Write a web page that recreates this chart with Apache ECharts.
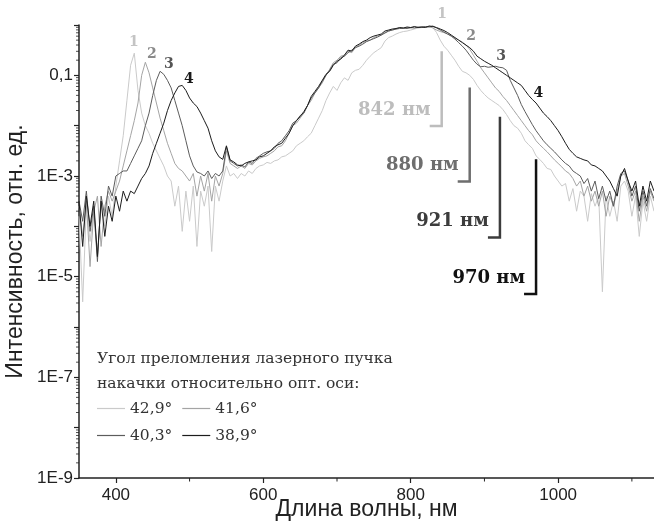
<!DOCTYPE html>
<html><head><meta charset="utf-8">
<script src="https://cdn.jsdelivr.net/npm/echarts@6/dist/echarts.min.js"></script>
<style>html,body{margin:0;padding:0;background:#fff}#c{width:654px;height:528px}</style>
</head><body><div id="c"></div><script>
// Wavelength grid, nm
const wavelength = [
350,355,360,365,370,375,380,385,390,395,
400,405,410,415,420,425,430,435,440,445,
450,455,460,465,470,475,480,485,490,495,
500,505,510,515,520,525,530,535,540,545,
550,555,560,565,570,575,580,585,590,595,
600,605,610,615,620,625,630,635,640,645,
650,655,660,665,670,675,680,685,690,695,
700,705,710,715,720,725,730,735,740,745,
750,755,760,765,770,775,780,785,790,795,
800,805,810,815,820,825,830,835,840,845,
850,855,860,865,870,875,880,885,890,895,
900,905,910,915,920,925,930,935,940,945,
950,955,960,965,970,975,980,985,990,995,
1000,1005,1010,1015,1020,1025,1030,1035,1040,1045,
1050,1055,1060,1065,1070,1075,1080,1085,1090,1095,
1100,1105,1110,1115,1120,1125,1130];
// Intensities as log10 exponents (decades)
const lg1 = [
-3.8,-5.5,-3.6,-4.3,-3.7,-4.6,-3.5,-4.0,-3.4,-3.8,
-3.2,-2.7,-2.2,-1.5,-0.8,-0.56,-1.3,-1.75,-2.0,-2.15,
-2.35,-2.5,-2.65,-2.8,-3.0,-3.1,-3.6,-3.2,-4.1,-3.3,
-3.9,-3.2,-4.4,-3.3,-3.6,-3.2,-4.5,-3.2,-3.5,-3.1,
-2.8,-3.0,-2.95,-3.05,-2.95,-3.0,-2.9,-2.95,-2.85,-2.8,
-2.78,-2.73,-2.75,-2.7,-2.68,-2.62,-2.6,-2.55,-2.5,-2.4,
-2.35,-2.3,-2.22,-2.15,-2.0,-1.85,-1.7,-1.5,-1.35,-1.22,
-1.3,-1.15,-1.05,-1.1,-0.95,-0.9,-0.88,-0.8,-0.7,-0.62,
-0.55,-0.5,-0.45,-0.32,-0.25,-0.22,-0.18,-0.15,-0.13,-0.12,
-0.1,-0.08,-0.06,-0.05,-0.04,-0.03,-0.05,-0.15,-0.3,-0.42,
-0.5,-0.6,-0.7,-0.82,-0.92,-0.95,-1.0,-1.08,-1.2,-1.3,
-1.38,-1.45,-1.5,-1.55,-1.6,-1.68,-1.78,-1.9,-2.0,-2.05,
-2.15,-2.3,-2.38,-2.45,-2.6,-2.67,-2.75,-2.85,-2.87,-3.0,
-3.1,-3.2,-3.15,-3.5,-3.25,-3.7,-3.3,-3.4,-3.9,-3.35,
-3.6,-3.4,-5.3,-3.4,-3.8,-3.5,-3.9,-3.2,-3.1,-3.3,
-3.8,-3.4,-4.2,-3.5,-3.9,-3.4,-3.7];
const lg2 = [
-3.6,-4.2,-3.5,-4.8,-3.7,-3.4,-4.4,-3.6,-3.3,-3.5,
-3.3,-3.1,-2.8,-2.5,-2.2,-1.9,-1.55,-1.0,-0.74,-0.95,
-1.25,-1.55,-1.85,-2.1,-2.35,-2.55,-2.75,-2.85,-2.9,-3.0,
-3.1,-2.95,-3.4,-3.0,-3.3,-2.95,-3.5,-3.0,-3.2,-2.95,
-2.5,-2.75,-2.8,-2.85,-2.8,-2.85,-2.75,-2.78,-2.7,-2.65,
-2.62,-2.6,-2.55,-2.5,-2.42,-2.4,-2.3,-2.15,-2.0,-1.95,
-1.85,-1.75,-1.6,-1.5,-1.35,-1.25,-1.15,-1.0,-0.88,-0.75,
-0.7,-0.62,-0.6,-0.52,-0.55,-0.45,-0.4,-0.35,-0.32,-0.3,
-0.25,-0.22,-0.2,-0.15,-0.12,-0.1,-0.08,-0.06,-0.07,-0.05,
-0.06,-0.04,-0.05,-0.03,-0.04,-0.03,-0.06,-0.1,-0.13,-0.15,
-0.18,-0.22,-0.26,-0.3,-0.34,-0.4,-0.48,-0.6,-0.72,-0.85,
-0.95,-1.05,-1.15,-1.25,-1.32,-1.42,-1.5,-1.6,-1.7,-1.8,
-1.9,-2.0,-2.1,-2.18,-2.3,-2.38,-2.45,-2.52,-2.6,-2.68,
-2.75,-2.82,-2.9,-2.95,-3.05,-3.2,-3.1,-3.4,-3.2,-3.5,
-3.3,-3.6,-3.3,-3.8,-3.4,-3.6,-3.3,-3.0,-2.95,-3.2,
-3.5,-3.3,-3.9,-3.4,-3.7,-3.3,-3.5];
const lg3 = [
-3.5,-3.9,-3.3,-4.1,-3.6,-4.7,-3.4,-3.8,-3.2,-3.4,
-3.0,-2.95,-2.9,-2.9,-2.75,-2.6,-2.45,-2.3,-2.0,-1.75,
-1.4,-1.1,-0.92,-0.98,-1.1,-1.25,-1.5,-1.75,-2.0,-2.3,
-2.6,-2.8,-2.92,-2.95,-3.0,-2.9,-3.05,-2.95,-3.0,-2.9,
-2.42,-2.7,-2.75,-2.8,-2.78,-2.82,-2.72,-2.75,-2.65,-2.6,
-2.55,-2.52,-2.5,-2.45,-2.35,-2.3,-2.2,-2.1,-1.95,-1.9,
-1.8,-1.75,-1.6,-1.45,-1.35,-1.25,-1.12,-1.0,-0.9,-0.78,
-0.75,-0.65,-0.62,-0.55,-0.5,-0.45,-0.42,-0.38,-0.33,-0.3,
-0.27,-0.24,-0.2,-0.16,-0.12,-0.1,-0.08,-0.07,-0.06,-0.07,
-0.05,-0.06,-0.04,-0.05,-0.03,-0.04,-0.02,-0.06,-0.1,-0.14,
-0.18,-0.22,-0.28,-0.35,-0.42,-0.5,-0.6,-0.7,-0.78,-0.83,
-0.82,-0.84,-0.83,-0.82,-0.84,-0.85,-0.9,-1.1,-1.25,-1.4,
-1.58,-1.72,-1.85,-1.98,-2.1,-2.2,-2.3,-2.38,-2.45,-2.52,
-2.6,-2.68,-2.75,-2.8,-2.9,-2.95,-3.0,-3.15,-3.05,-3.3,
-3.1,-3.45,-3.2,-3.5,-3.3,-3.6,-3.2,-2.95,-2.9,-3.1,
-3.4,-3.2,-3.7,-3.3,-3.6,-3.25,-3.45];
const lg4 = [
-3.5,-4.4,-3.4,-4.0,-3.5,-4.6,-3.5,-4.2,-3.6,-3.9,
-3.4,-3.7,-3.3,-3.5,-3.3,-3.35,-3.2,-3.05,-2.95,-2.8,
-2.55,-2.35,-2.15,-1.95,-1.7,-1.5,-1.35,-1.22,-1.2,-1.3,
-1.45,-1.55,-1.62,-1.75,-1.9,-2.05,-2.3,-2.5,-2.62,-2.67,
-2.4,-2.68,-2.72,-2.78,-2.8,-2.75,-2.72,-2.7,-2.68,-2.62,
-2.6,-2.55,-2.5,-2.42,-2.38,-2.35,-2.25,-2.15,-2.0,-1.9,
-1.82,-1.72,-1.6,-1.42,-1.32,-1.22,-1.1,-0.98,-0.92,-0.8,
-0.72,-0.68,-0.6,-0.5,-0.52,-0.42,-0.38,-0.33,-0.3,-0.25,
-0.22,-0.2,-0.18,-0.12,-0.1,-0.08,-0.07,-0.05,-0.06,-0.04,
-0.05,-0.03,-0.05,-0.04,-0.05,-0.02,-0.03,-0.05,-0.08,-0.11,
-0.15,-0.2,-0.25,-0.3,-0.35,-0.4,-0.45,-0.52,-0.62,-0.67,
-0.72,-0.76,-0.8,-0.85,-0.9,-0.95,-1.0,-1.05,-1.1,-1.15,
-1.2,-1.3,-1.4,-1.48,-1.55,-1.65,-1.75,-1.82,-1.9,-2.0,
-2.1,-2.22,-2.35,-2.47,-2.55,-2.62,-2.65,-2.68,-2.7,-2.78,
-2.8,-2.85,-2.9,-3.0,-3.1,-3.25,-3.4,-3.0,-2.85,-3.1,
-3.3,-3.1,-3.6,-3.2,-3.5,-3.1,-3.3];

const seriesNames = ['42,9°','41,6°','40,3°','38,9°'];
const seriesColors = ['#cacaca','#a4a4a4','#5c5c5c','#1c1c1c'];
const seriesLogs = [lg1, lg2, lg3, lg4];

const xLabelValues = [400, 600, 800, 1000];
const xMinorTickValues = [500, 700, 900, 1100];
const yLabelValues = [1e-9, 1e-7, 1e-5, 1e-3, 0.1];
const yMajorTickValues = [1e-9,1e-8,1e-7,1e-6,1e-5,1e-4,1e-3,1e-2,1e-1,1];
const yMinorTickValues = [];
for (let e = -9; e < 0; e++) for (let m = 2; m <= 9; m++) yMinorTickValues.push(m * Math.pow(10, e));

const legendTitle = 'Угол преломления лазерного пучка\nнакачки относительно опт. оси:';
// Curve number labels: [text, nm, intensity, colour index]
const peakLabels = [
  ['1', 424.6, 0.457, 0], ['2', 449, 0.263, 1], ['3', 472, 0.166, 2], ['4', 499, 0.083, 3],
  ['1', 842.5, 1.62, 0], ['2', 882, 0.60, 1], ['3', 922.6, 0.24, 2], ['4', 973, 0.0437, 3]
];
// Cut-off markers: [text, nm, top intensity, bottom intensity, colour]
const cutoffs = [
  ['842 нм', 842, 0.30, 0.0098, '#bdbdbd'],
  ['880 нм', 880, 0.0575, 7.8e-4, '#6e6e6e'],
  ['921 нм', 921, 0.0151, 6.0e-5, '#3c3c3c'],
  ['970 нм', 970, 0.00214, 4.5e-6, '#111111']
];
const labelColors = ['#c4c4c4', '#8a8a8a', '#555555', '#1a1a1a'];

const chart = echarts.init(document.getElementById('c'), null, {renderer: 'canvas'});
const axisColor = '#222';
const sans = 'Liberation Sans, Arial, sans-serif';
const serif = 'DejaVu Serif, serif';
const X_MIN = 350, X_MAX = 1130, Y_MIN = 1e-9, Y_MAX = 1;

const lineSeries = seriesLogs.map(function (lg, k) {
  return {
    name: seriesNames[k], type: 'line', showSymbol: false, symbol: 'none', clip: true,
    lineStyle: {color: seriesColors[k], width: 1},
    itemStyle: {color: seriesColors[k]},
    data: wavelength.map(function (w, i) { return [w, Math.pow(10, lg[i])]; })
  };
});
// minor ticks drawn through the axes' own scales
const minorX = {
  type: 'custom', silent: true, clip: false, z: 5,
  data: xMinorTickValues.map(function (v) { return [v, Y_MIN]; }),
  renderItem: function (params, api) {
    const p = api.coord([api.value(0), api.value(1)]);
    return {type: 'line', shape: {x1: p[0], y1: p[1], x2: p[0], y2: p[1] + 3.5}, style: {stroke: axisColor, lineWidth: 1}};
  }
};
const minorY = {
  type: 'custom', silent: true, clip: false, z: 5,
  data: yMinorTickValues.map(function (v) { return [X_MIN, v]; }),
  renderItem: function (params, api) {
    const p = api.coord([api.value(0), api.value(1)]);
    return {type: 'line', shape: {x1: p[0] - 3, y1: p[1], x2: p[0], y2: p[1]}, style: {stroke: axisColor, lineWidth: 0.8}};
  }
};

chart.setOption({
  animation: false,
  backgroundColor: '#fff',
  grid: {left: 79, right: 0, top: 25, bottom: 50, containLabel: false, outerBoundsMode: 'none'},
  title: {
    text: legendTitle, left: 97, top: 346, padding: 0,
    textStyle: {fontFamily: serif, fontSize: 15.5, fontWeight: 'normal', color: '#333', lineHeight: 25}
  },
  legend: {
    data: seriesNames, left: 97, top: 400, width: 200, orient: 'horizontal', padding: 0,
    icon: 'rect', itemWidth: 28, itemHeight: 1.2, itemGap: 10,
    textStyle: {fontFamily: serif, fontSize: 15.5, color: '#333', padding: [0, 0, 0, 0], height: 17, lineHeight: 17}
  },
  xAxis: {
    type: 'value', min: X_MIN, max: X_MAX,
    name: 'Длина волны, нм', nameLocation: 'middle', nameGap: 20, nameMoveOverlap: false,
    nameTextStyle: {fontFamily: sans, fontSize: 23, color: axisColor},
    axisLine: {show: true, lineStyle: {color: axisColor, width: 1.5}},
    axisTick: {show: true, length: 5, customValues: xLabelValues, lineStyle: {color: axisColor, width: 1.2}},
    axisLabel: {customValues: xLabelValues, fontFamily: sans, fontSize: 17, color: axisColor, margin: 9,
      formatter: function (v) { return String(v); }},
    splitLine: {show: false}
  },
  yAxis: {
    type: 'log', logBase: 10, min: Y_MIN, max: Y_MAX,
    name: 'Интенсивность, отн. ед.', nameLocation: 'middle', nameGap: 52, nameRotate: 90, nameMoveOverlap: false,
    nameTextStyle: {fontFamily: sans, fontSize: 23, color: axisColor},
    axisLine: {show: true, lineStyle: {color: axisColor, width: 1.5}},
    axisTick: {show: true, length: 5, customValues: yMajorTickValues, lineStyle: {color: axisColor, width: 1.2}},
    axisLabel: {
      customValues: yLabelValues, fontFamily: sans, fontSize: 17, color: axisColor, margin: 6,
      formatter: function (v) {
        const e = Math.round(Math.log10(v));
        return e === -1 ? '0,1' : '1E' + e;
      }
    },
    splitLine: {show: false}
  },
  series: lineSeries.concat([minorX, minorY])
});

const g = [];
peakLabels.forEach(function (p) {
  const pt = chart.convertToPixel({gridIndex: 0}, [p[1], p[2]]);
  g.push({type: 'text', x: pt[0], y: pt[1], style: {
    text: p[0], fill: labelColors[p[3]], font: 'bold 14px ' + serif, align: 'center', verticalAlign: 'middle'
  }});
});
cutoffs.forEach(function (c) {
  const top = chart.convertToPixel({gridIndex: 0}, [c[1], c[2]]);
  const bot = chart.convertToPixel({gridIndex: 0}, [c[1], c[3]]);
  g.push({type: 'polyline', shape: {points: [[top[0], top[1]], [bot[0], bot[1]], [bot[0] - 12, bot[1]]]},
    style: {stroke: c[4], lineWidth: 2.5, fill: null}});
  g.push({type: 'text', x: bot[0] - 11, y: bot[1] - 16, style: {
    text: c[0], fill: c[4], font: 'bold 18px ' + serif, align: 'right', verticalAlign: 'middle'
  }});
});
chart.setOption({graphic: g});
</script></body></html>
